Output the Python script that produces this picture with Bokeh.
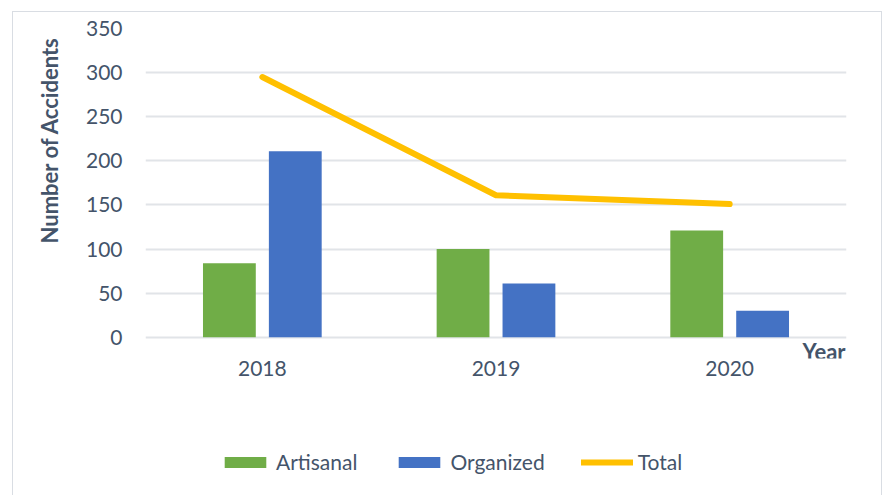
from bokeh.plotting import figure
from bokeh.layouts import column
from bokeh.models import (FactorRange, Range1d, Legend, LegendItem, Label,
                          Title, ColumnDataSource, FixedTicker)
from bokeh.transform import dodge
from bokeh.embed import file_html
from bokeh.resources import INLINE

years = ["2018", "2019", "2020"]
artisanal = [84, 100, 121]
organized = [211, 61, 30]
total = [295, 161, 151]
y_ticks = [0, 50, 100, 150, 200, 250, 300, 350]

FONT = "Lato"
TXT = "#44546A"
GRID = "#e1e4e8"
GREEN = "#70AD47"
BLUE = "#4472C4"
GOLD = "#FFC000"

src = ColumnDataSource(dict(year=years, artisanal=artisanal,
                            organized=organized, total=total))


def add_series(fig):
    a = fig.vbar(x=dodge("year", -0.141, range=fig.x_range), top="artisanal",
                 width=0.226, source=src, fill_color=GREEN, line_color=None)
    o = fig.vbar(x=dodge("year", 0.141, range=fig.x_range), top="organized",
                 width=0.226, source=src, fill_color=BLUE, line_color=None)
    t = fig.line(x="year", y="total", source=src, line_color=GOLD,
                 line_width=6, line_cap="round", line_join="round")
    return a, o, t


# ---- main chart ----
p = figure(x_range=FactorRange(*years), y_range=Range1d(-24, 350),
           width=868, height=379, output_backend="svg", toolbar_location=None,
           min_border_left=131, min_border_right=35, min_border_top=16,
           min_border_bottom=33)
p.outline_line_color = None
p.background_fill_color = "white"
p.border_fill_color = "white"
add_series(p)

p.xgrid.visible = False
p.yaxis.ticker = FixedTicker(ticks=y_ticks)
p.ygrid.grid_line_color = GRID
p.ygrid.grid_line_width = 2

for ax in (p.xaxis[0], p.yaxis[0]):
    ax.axis_line_color = None
    ax.major_tick_line_color = None
    ax.minor_tick_line_color = None
    ax.major_label_text_font = FONT
    ax.major_label_text_font_size = "21px"
    ax.major_label_text_color = TXT
p.yaxis.major_label_standoff = 17
p.xaxis.major_label_standoff = -4

p.add_layout(Title(text="Number of Accidents", align="left", offset=115,
                   standoff=40, text_font=FONT, text_font_style="bold",
                   text_font_size="22px", text_color=TXT), "left")

p.add_layout(Label(x=3, y=-16, text="Year", text_align="right",
                   text_baseline="middle", x_offset=-1,
                   text_font=FONT, text_font_style="bold",
                   text_font_size="22px", text_color=TXT))

# ---- legend strip (same series, drawn outside its visible range) ----
q = figure(x_range=FactorRange(*years), y_range=Range1d(1000, 1001),
           width=868, height=105, output_backend="svg", toolbar_location=None,
           x_axis_location=None, y_axis_location=None,
           min_border=0, outline_line_color=None)
q.xgrid.visible = False
q.ygrid.visible = False
q.border_fill_color = "white"
la, lo, lt = add_series(q)

legend = Legend(items=[LegendItem(label="Artisanal", renderers=[la]),
                       LegendItem(label="Organized", renderers=[lo]),
                       LegendItem(label="Total", renderers=[lt])],
                orientation="horizontal", location=(74, 22),
                border_line_color=None, background_fill_alpha=0,
                padding=0, margin=0, spacing=36, label_standoff=5,
                glyph_width=52, glyph_height=14,
                label_text_font=FONT, label_text_font_size="21px",
                label_text_color=TXT)
q.add_layout(legend, "center")

layout = column(p, q, spacing=0)
layout.margin = (11, 0, 0, 12)
layout.styles = {"border": "1px solid #d9dde3"}

open("out.html", "w").write(file_html(layout, INLINE))
